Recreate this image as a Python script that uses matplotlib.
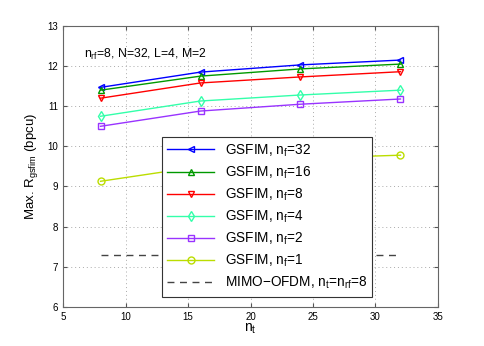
import matplotlib
matplotlib.use("Agg")
import matplotlib.pyplot as plt

plt.rcParams['font.family'] = ['Liberation Sans', 'DejaVu Sans']
plt.rcParams['mathtext.default'] = 'regular'

# datos
nt = [8, 16, 24, 32]
r_nf32 = [11.47, 11.85, 12.03, 12.15]
r_nf16 = [11.40, 11.75, 11.93, 12.05]
r_nf8 = [11.20, 11.58, 11.73, 11.86]
r_nf4 = [10.75, 11.13, 11.28, 11.40]
r_nf2 = [10.50, 10.88, 11.05, 11.18]
r_nf1 = [9.13, 9.50, 9.70, 9.78]
r_mimo = [7.30, 7.30, 7.30, 7.30]

series = [
    (r_nf32, '#0000ff', '<', r'GSFIM, n$_f$=32'),
    (r_nf16, '#009900', '^', r'GSFIM, n$_f$=16'),
    (r_nf8, '#ff0000', 'v', r'GSFIM, n$_f$=8'),
    (r_nf4, '#33ffaa', 'd', r'GSFIM, n$_f$=4'),
    (r_nf2, '#9933ff', 's', r'GSFIM, n$_f$=2'),
    (r_nf1, '#bbdd00', 'o', r'GSFIM, n$_f$=1'),
]

fig = plt.figure(figsize=(4.85, 3.46), dpi=100)
ax = fig.add_axes([0.13, 0.113, 0.773, 0.812])

for vals, col, mk, lab in series:
    ax.plot(nt, vals, color=col, marker=mk, markersize=5, markerfacecolor='none',
            markeredgecolor=col, linewidth=1, label=lab)
ax.plot(nt, r_mimo, color='#444444', linestyle=(0, (5, 4)), linewidth=1,
        label=r'MIMO$-$OFDM, n$_t$=n$_{rf}$=8')

ax.set_xlim(5, 35)
ax.set_ylim(6, 13)
ax.set_xticks([5, 10, 15, 20, 25, 30, 35])
ax.set_yticks([6, 7, 8, 9, 10, 11, 12, 13])
ax.tick_params(direction='in', labelsize=7, length=3, color='#555555',
               right=True, top=True)
ax.grid(True, linestyle=(0, (1, 3)), color='#aaaaaa', linewidth=0.7)
for s in ax.spines.values():
    s.set_color('#666666')

ax.set_xlabel(r'n$_t$', fontsize=10, labelpad=0)
ax.set_ylabel(r'Max. R$_{gsfim}$ (bpcu)', fontsize=9.5, labelpad=5)
ax.text(0.055, 0.925, r'n$_{rf}$=8, N=32, L=4, M=2', transform=ax.transAxes,
        fontsize=8.8, va='top')

leg = ax.legend(loc='lower left', bbox_to_anchor=(0.264, 0.036), borderaxespad=0,
                fontsize=9.8, handlelength=3.4, labelspacing=0.42, fancybox=False,
                framealpha=1, edgecolor='#333333')
leg.get_frame().set_linewidth(0.8)

fig.savefig('out.png', dpi=100)
